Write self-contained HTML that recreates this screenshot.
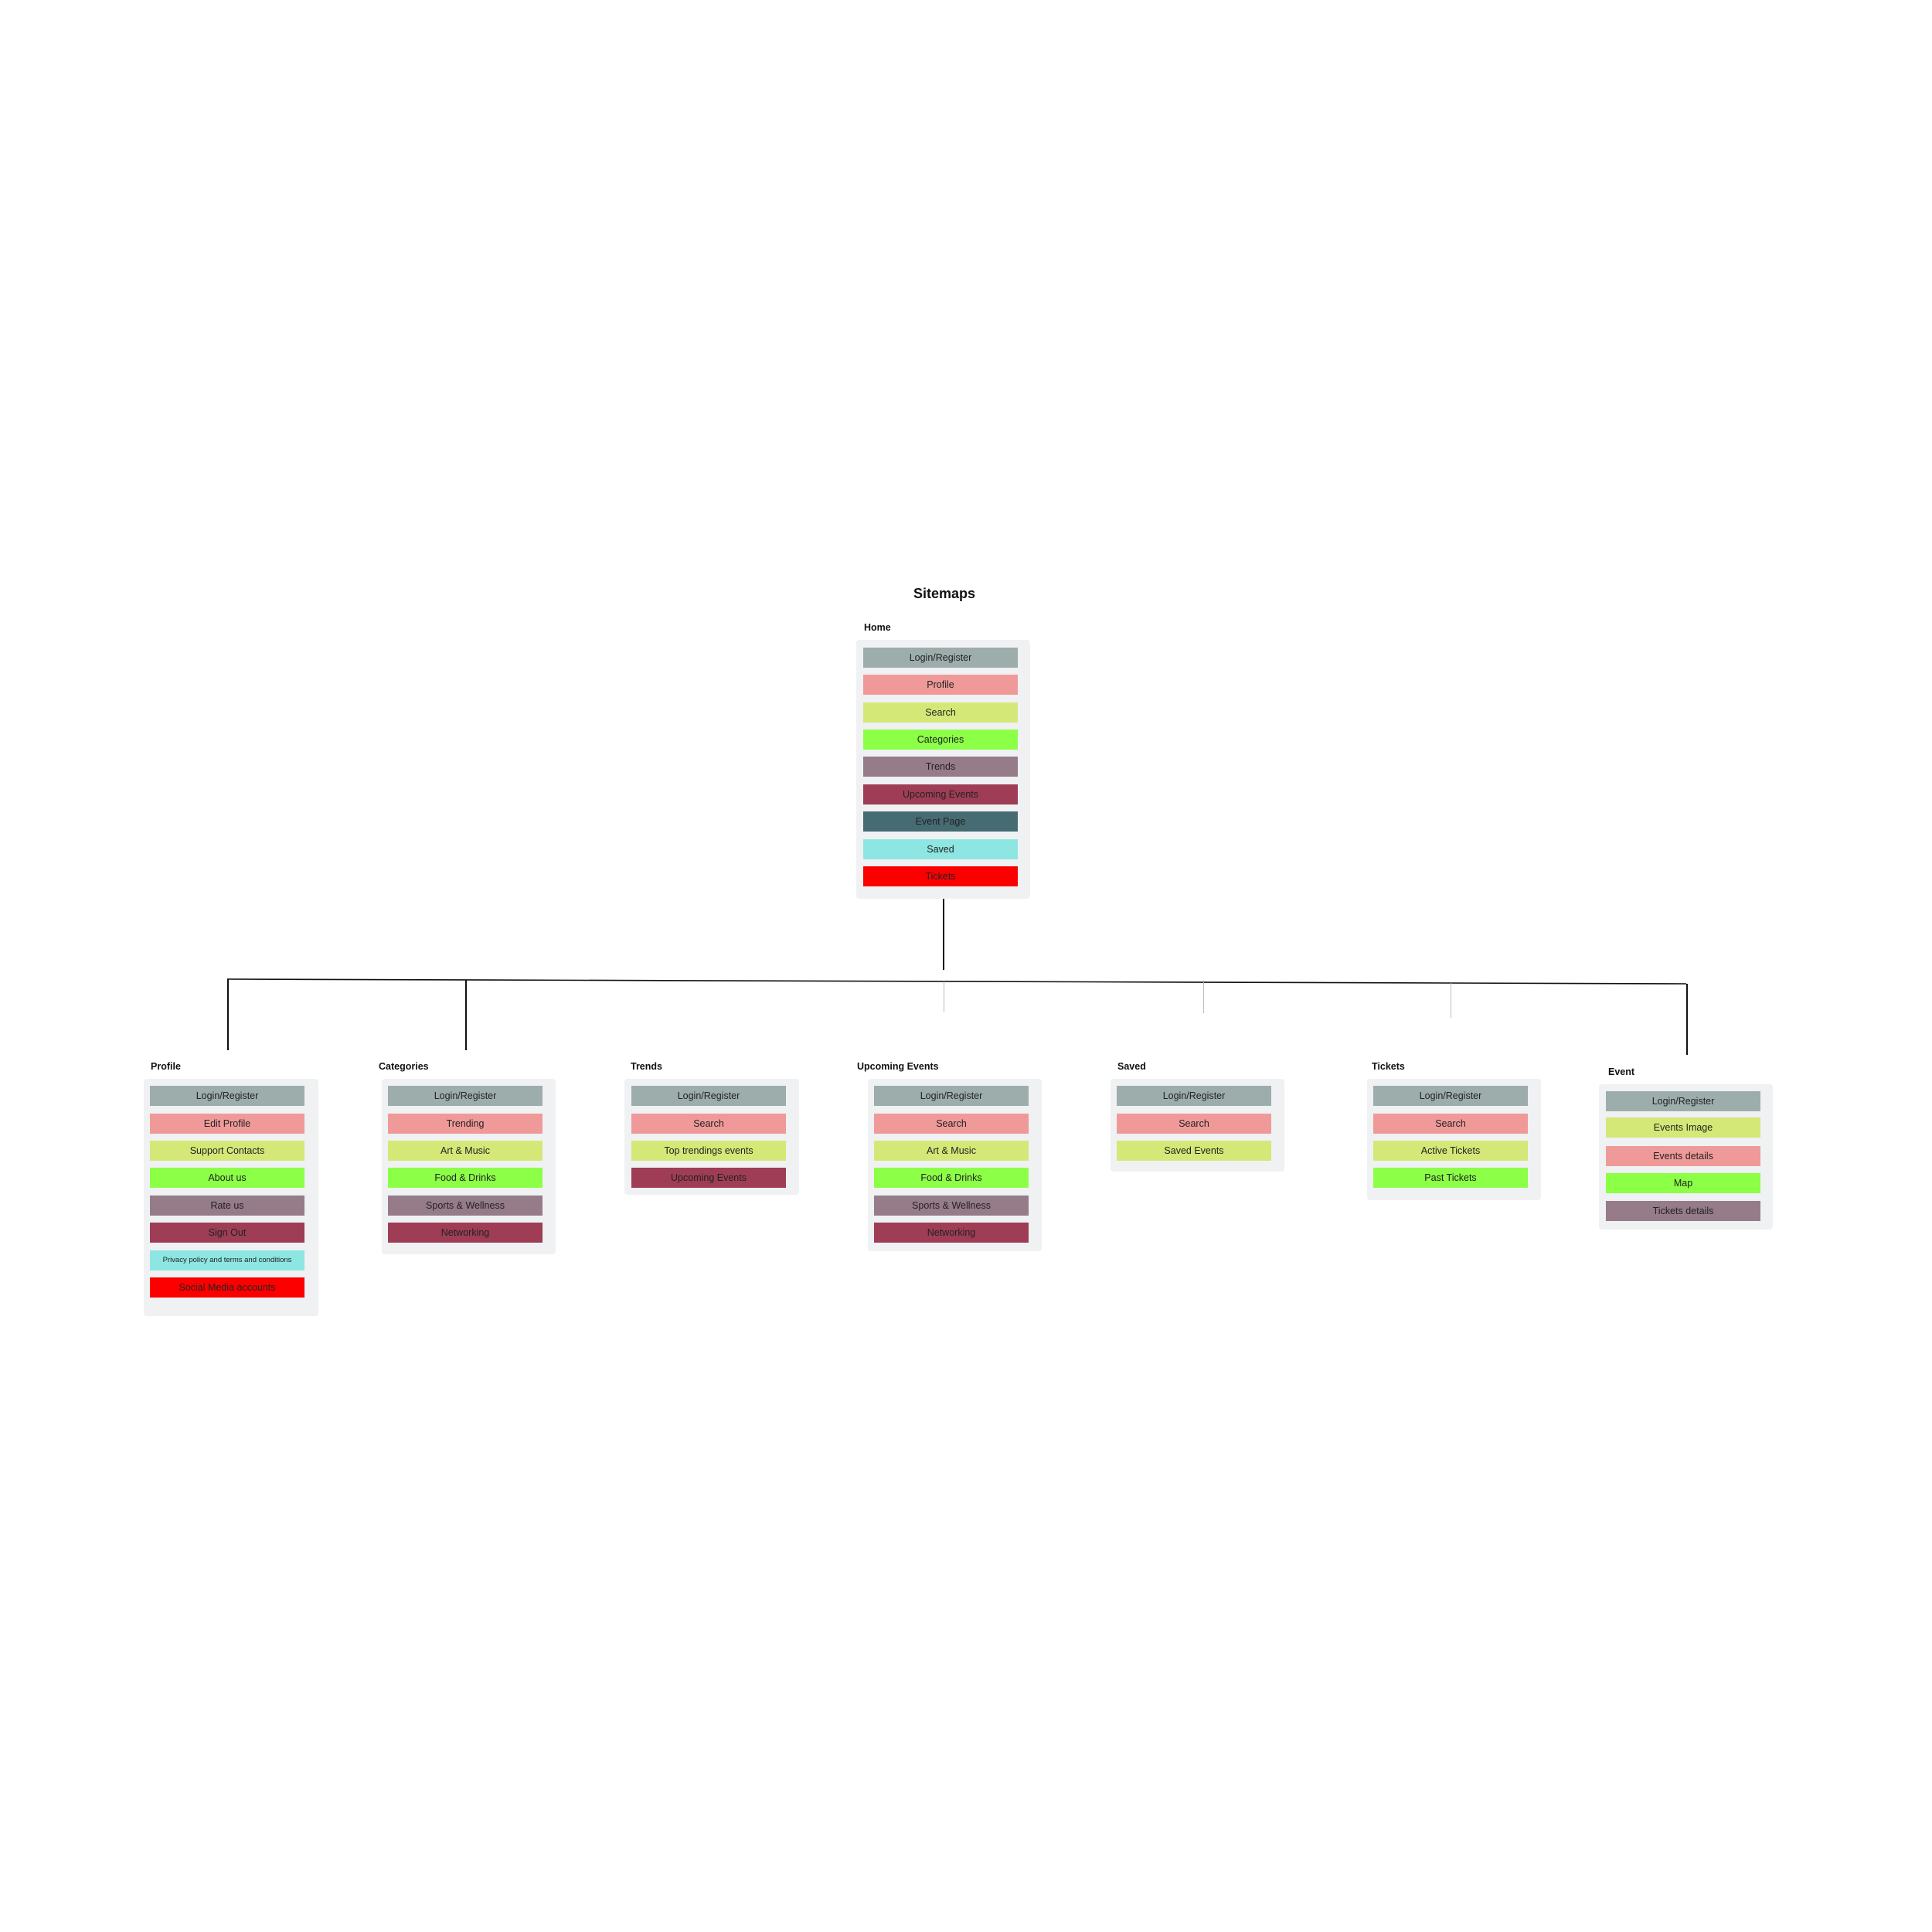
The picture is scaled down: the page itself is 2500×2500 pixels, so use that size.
<!DOCTYPE html>
<html><head><meta charset="utf-8"><style>
html,body{margin:0;padding:0;background:#fff;}
body{width:2500px;height:2500px;position:relative;overflow:hidden;font-family:"Liberation Sans",sans-serif;}
.t{position:absolute;font-weight:bold;color:#111;font-size:12.5px;white-space:nowrap;}
.p{position:absolute;background:#eff1f3;border-radius:4px;}
.b{position:absolute;width:200px;height:26px;line-height:26px;text-align:center;font-size:12.5px;color:#222;white-space:nowrap;}
.l{position:absolute;background:#111;}
.g{position:absolute;background:#bbb;}
.gy{background:#9dadac}.pk{background:#ef9a98}.yg{background:#d4e878}.gr{background:#8cff47}
.mv{background:#967b89}.cr{background:#9e3d55}.tl{background:#466b72}.cy{background:#8ee6e2}.rd{background:#fc0000}
</style></head><body>
<div class="t" style="left:1182px;top:758px;font-size:18px;">Sitemaps</div>

<div class="t" style="left:1118px;top:805px;">Home</div>
<div class="p" style="left:1108px;top:828px;width:225px;height:335px;"></div>
<div class="b gy" style="left:1117px;top:838px;">Login/Register</div>
<div class="b pk" style="left:1117px;top:873px;">Profile</div>
<div class="b yg" style="left:1117px;top:909px;">Search</div>
<div class="b gr" style="left:1117px;top:944px;">Categories</div>
<div class="b mv" style="left:1117px;top:979px;">Trends</div>
<div class="b cr" style="left:1117px;top:1015px;">Upcoming Events</div>
<div class="b tl" style="left:1117px;top:1050px;">Event Page</div>
<div class="b cy" style="left:1117px;top:1086px;">Saved</div>
<div class="b rd" style="left:1117px;top:1121px;">Tickets</div>

<!-- connectors -->
<div class="l" style="left:1220px;top:1163px;width:1.5px;height:92px;"></div>
<svg style="position:absolute;left:0;top:0" width="2500" height="2500">
<line x1="294" y1="1267" x2="2182" y2="1273" stroke="#111" stroke-width="1.6"/>
</svg>
<div class="l" style="left:294px;top:1267px;width:1.5px;height:92px;"></div>
<div class="l" style="left:602px;top:1268px;width:1.5px;height:91px;"></div>
<div class="l" style="left:2182px;top:1273px;width:1.5px;height:92px;"></div>
<div class="g" style="left:1221px;top:1270px;width:1px;height:40px;"></div>
<div class="g" style="left:1557px;top:1271px;width:1px;height:40px;"></div>
<div class="g" style="left:1877px;top:1272px;width:1px;height:45px;"></div>

<!-- Profile -->
<div class="t" style="left:195px;top:1373px;">Profile</div>
<div class="p" style="left:186px;top:1396px;width:226px;height:307px;"></div>
<div class="b gy" style="left:194px;top:1405px;">Login/Register</div>
<div class="b pk" style="left:194px;top:1441px;">Edit Profile</div>
<div class="b yg" style="left:194px;top:1476px;">Support Contacts</div>
<div class="b gr" style="left:194px;top:1511px;">About us</div>
<div class="b mv" style="left:194px;top:1547px;">Rate us</div>
<div class="b cr" style="left:194px;top:1582px;">Sign Out</div>
<div class="b cy" style="left:194px;top:1618px;font-size:9.5px;">Privacy policy and terms and conditions</div>
<div class="b rd" style="left:194px;top:1653px;">Social Media accounts</div>

<!-- Categories -->
<div class="t" style="left:490px;top:1373px;">Categories</div>
<div class="p" style="left:494px;top:1396px;width:225px;height:227px;"></div>
<div class="b gy" style="left:502px;top:1405px;">Login/Register</div>
<div class="b pk" style="left:502px;top:1441px;">Trending</div>
<div class="b yg" style="left:502px;top:1476px;">Art &amp; Music</div>
<div class="b gr" style="left:502px;top:1511px;">Food &amp; Drinks</div>
<div class="b mv" style="left:502px;top:1547px;">Sports &amp; Wellness</div>
<div class="b cr" style="left:502px;top:1582px;">Networking</div>

<!-- Trends -->
<div class="t" style="left:816px;top:1373px;">Trends</div>
<div class="p" style="left:808px;top:1396px;width:226px;height:150px;"></div>
<div class="b gy" style="left:817px;top:1405px;">Login/Register</div>
<div class="b pk" style="left:817px;top:1441px;">Search</div>
<div class="b yg" style="left:817px;top:1476px;">Top trendings events</div>
<div class="b cr" style="left:817px;top:1511px;">Upcoming Events</div>

<!-- Upcoming -->
<div class="t" style="left:1109px;top:1373px;">Upcoming Events</div>
<div class="p" style="left:1123px;top:1396px;width:225px;height:223px;"></div>
<div class="b gy" style="left:1131px;top:1405px;">Login/Register</div>
<div class="b pk" style="left:1131px;top:1441px;">Search</div>
<div class="b yg" style="left:1131px;top:1476px;">Art &amp; Music</div>
<div class="b gr" style="left:1131px;top:1511px;">Food &amp; Drinks</div>
<div class="b mv" style="left:1131px;top:1547px;">Sports &amp; Wellness</div>
<div class="b cr" style="left:1131px;top:1582px;">Networking</div>

<!-- Saved -->
<div class="t" style="left:1446px;top:1373px;">Saved</div>
<div class="p" style="left:1437px;top:1396px;width:225px;height:120px;"></div>
<div class="b gy" style="left:1445px;top:1405px;">Login/Register</div>
<div class="b pk" style="left:1445px;top:1441px;">Search</div>
<div class="b yg" style="left:1445px;top:1476px;">Saved Events</div>

<!-- Tickets -->
<div class="t" style="left:1775px;top:1373px;">Tickets</div>
<div class="p" style="left:1769px;top:1396px;width:225px;height:157px;"></div>
<div class="b gy" style="left:1777px;top:1405px;">Login/Register</div>
<div class="b pk" style="left:1777px;top:1441px;">Search</div>
<div class="b yg" style="left:1777px;top:1476px;">Active Tickets</div>
<div class="b gr" style="left:1777px;top:1511px;">Past Tickets</div>

<!-- Event -->
<div class="t" style="left:2081px;top:1380px;">Event</div>
<div class="p" style="left:2069px;top:1403px;width:225px;height:188px;"></div>
<div class="b gy" style="left:2078px;top:1412px;">Login/Register</div>
<div class="b yg" style="left:2078px;top:1446px;">Events Image</div>
<div class="b pk" style="left:2078px;top:1483px;">Events details</div>
<div class="b gr" style="left:2078px;top:1518px;">Map</div>
<div class="b mv" style="left:2078px;top:1554px;">Tickets details</div>
</body></html>
